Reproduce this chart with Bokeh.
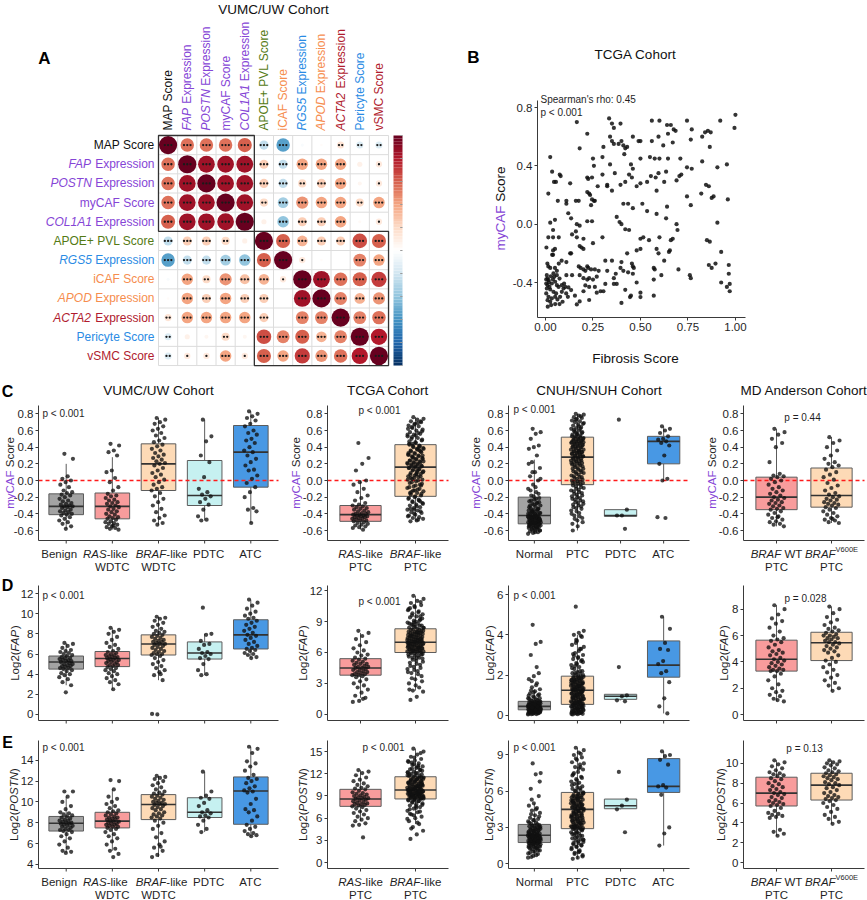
import math
from bokeh.plotting import figure
from bokeh.models import Label, FixedTicker, NumeralTickFormatter, Range1d
from bokeh.layouts import column, row
from bokeh.embed import file_html
from bokeh.resources import INLINE

FONT = "Liberation Sans"
TXT = "#1f1f1f"
PURPLE = "#8545D6"
GREEN = "#547A14"
ORANGE = "#F68D4E"
BLUE = "#2A8BE4"
DARKRED = "#B01B2E"
BLACK = "#111111"

# ---------------- data: panel A (correlation matrix, display order) ----------------
row_labels = [
    [("MAP Score", "normal", BLACK)],
    [("FAP", "italic", PURPLE), (" Expression", "normal", PURPLE)],
    [("POSTN", "italic", PURPLE), (" Expression", "normal", PURPLE)],
    [("myCAF Score", "normal", PURPLE)],
    [("COL1A1", "italic", PURPLE), (" Expression", "normal", PURPLE)],
    [("APOE+ PVL Score", "normal", GREEN)],
    [("RGS5", "italic", BLUE), (" Expression", "normal", BLUE)],
    [("iCAF Score", "normal", ORANGE)],
    [("APOD", "italic", ORANGE), (" Expression", "normal", ORANGE)],
    [("ACTA2", "italic", DARKRED), (" Expression", "normal", DARKRED)],
    [("Pericyte Score", "normal", BLUE)],
    [("vSMC Score", "normal", DARKRED)],
]
col_labels = [
    [("MAP Score", "normal", BLACK)],
    [("FAP", "italic", PURPLE), (" Expression", "normal", PURPLE)],
    [("POSTN", "italic", PURPLE), (" Expression", "normal", PURPLE)],
    [("myCAF Score", "normal", PURPLE)],
    [("COL1A1", "italic", PURPLE), (" Expression", "normal", PURPLE)],
    [("APOE+ PVL Score", "normal", GREEN)],
    [("iCAF Score", "normal", ORANGE)],
    [("RGS5", "italic", BLUE), (" Expression", "normal", BLUE)],
    [("APOD", "italic", ORANGE), (" Expression", "normal", ORANGE)],
    [("ACTA2", "italic", DARKRED), (" Expression", "normal", DARKRED)],
    [("Pericyte Score", "normal", BLUE)],
    [("vSMC Score", "normal", DARKRED)],
]
corr = [
    [1.00, 0.55, 0.55, 0.55, 0.60, -0.25, -0.55, -0.03, 0.02, 0.15, -0.15, -0.15],
    [0.55, 1.00, 0.85, 0.85, 0.85, 0.25, -0.25, 0.40, 0.40, 0.40, 0.08, 0.12],
    [0.55, 0.85, 1.00, 0.85, 0.85, 0.25, -0.25, 0.20, 0.25, 0.40, 0.05, 0.12],
    [0.55, 0.85, 0.85, 1.00, 0.85, 0.20, -0.35, 0.45, 0.40, 0.40, 0.20, 0.40],
    [0.60, 0.85, 0.85, 0.85, 1.00, 0.08, -0.40, 0.25, 0.25, 0.40, 0.03, 0.12],
    [-0.25, 0.25, 0.25, 0.20, 0.08, 1.00, 0.60, 0.35, 0.25, 0.25, 0.65, 0.60],
    [-0.55, -0.25, -0.25, -0.35, -0.40, 0.60, 1.00, 0.12, 0.02, 0.00, 0.50, 0.40],
    [-0.03, 0.40, 0.20, 0.45, 0.30, 0.35, 0.12, 1.00, 0.85, 0.55, 0.60, 0.70],
    [0.02, 0.40, 0.25, 0.40, 0.25, 0.25, 0.00, 0.85, 1.00, 0.50, 0.35, 0.45],
    [0.15, 0.40, 0.40, 0.40, 0.40, 0.25, 0.00, 0.50, 0.50, 1.00, 0.50, 0.55],
    [-0.15, 0.08, 0.05, 0.20, 0.05, 0.65, 0.50, 0.60, 0.35, 0.50, 1.00, 0.80],
    [-0.15, 0.12, 0.12, 0.40, 0.12, 0.60, 0.40, 0.70, 0.45, 0.55, 0.80, 1.00],
]
stars = [
    [3, 3, 3, 3, 3, 3, 3, 0, 0, 2, 2, 2],
    [3, 3, 3, 3, 3, 3, 3, 3, 3, 3, 0, 1],
    [3, 3, 3, 3, 3, 3, 3, 2, 3, 3, 0, 1],
    [3, 3, 3, 3, 3, 2, 3, 3, 3, 3, 2, 3],
    [3, 3, 3, 3, 3, 0, 3, 3, 3, 3, 0, 1],
    [3, 3, 3, 2, 0, 3, 3, 3, 3, 3, 3, 3],
    [3, 3, 3, 3, 3, 3, 3, 1, 0, 0, 3, 3],
    [0, 3, 2, 3, 3, 3, 1, 3, 3, 3, 3, 3],
    [0, 3, 3, 3, 3, 3, 0, 3, 3, 3, 3, 3],
    [2, 3, 3, 3, 3, 3, 0, 3, 3, 3, 3, 3],
    [2, 0, 0, 2, 0, 3, 3, 3, 3, 3, 3, 3],
    [2, 1, 1, 3, 1, 3, 3, 3, 3, 3, 3, 3],
]

# ---------------- data: panel B (TCGA scatter: fibrosis score, myCAF score) ----------------
tcga_pairs = [
    (0.165, 0.70), (0.18, 0.52), (0.22, 0.62), (0.025, 0.46), (0.335, 0.725), (0.35, 0.69), (0.36, 0.66),
    (0.395, 0.69), (0.305, 0.53), (0.34, 0.60), (0.35, 0.57), (0.36, 0.55), (0.385, 0.55), (0.40, 0.57),
    (0.41, 0.54), (0.42, 0.52), (0.43, 0.53), (0.415, 0.48), (0.46, 0.60), (0.49, 0.57), (0.50, 0.57),
    (0.25, 0.45), (0.30, 0.46), (0.255, 0.40), (0.34, 0.41), (0.45, 0.41), (0.50, 0.45), (0.55, 0.46),
    (0.56, 0.71), (0.60, 0.71), (0.64, 0.68), (0.66, 0.68), (0.675, 0.65), (0.685, 0.64), (0.595, 0.60),
    (0.62, 0.54), (0.645, 0.62), (0.67, 0.56), (0.56, 0.57), (0.575, 0.45), (0.60, 0.45), (0.645, 0.45),
    (0.71, 0.45), (0.745, 0.71), (0.77, 0.65), (0.765, 0.58), (0.825, 0.60), (0.84, 0.63), (0.855, 0.64),
    (0.87, 0.63), (0.865, 0.53), (0.92, 0.71), (0.995, 0.66), (1.0, 0.75), (0.825, 0.43), (0.905, 0.39),
    (0.955, 0.41), (0.745, 0.39), (0.77, 0.38),
    (0.035, 0.36), (0.045, 0.29), (0.055, 0.29), (0.075, 0.34), (0.08, 0.33), (0.015, 0.21), (0.065, 0.16),
    (0.11, 0.16), (0.11, 0.14), (0.13, 0.28), (0.16, 0.16), (0.175, 0.16), (0.12, 0.075), (0.135, 0.04),
    (0.025, 0.01), (0.05, 0.03), (0.04, -0.04), (0.22, 0.32), (0.225, 0.31), (0.245, 0.32), (0.22, 0.22),
    (0.23, 0.21), (0.235, 0.20), (0.245, 0.17), (0.255, 0.16), (0.26, 0.16), (0.24, 0.13), (0.30, 0.34),
    (0.325, 0.27), (0.325, 0.26), (0.365, 0.35), (0.275, 0.26), (0.35, 0.23), (0.395, 0.27), (0.42, 0.29),
    (0.44, 0.34), (0.455, 0.32), (0.48, 0.26), (0.50, 0.28), (0.46, 0.38), (0.535, 0.29), (0.555, 0.33),
    (0.58, 0.32), (0.595, 0.35), (0.635, 0.36), (0.625, 0.29), (0.69, 0.30), (0.705, 0.33), (0.715, 0.34),
    (0.585, 0.23), (0.745, 0.19), (0.765, 0.13), (0.82, 0.21), (0.845, 0.27), (0.86, 0.26), (0.885, 0.19),
    (0.875, 0.18), (0.96, 0.17), (0.905, 0.01), (0.41, 0.14), (0.435, 0.14), (0.46, 0.11), (0.51, 0.14),
    (0.535, 0.09), (0.585, 0.07), (0.64, 0.12), (0.69, 0.0), (0.695, -0.04), (0.375, 0.05), (0.39, 0.015),
    (0.40, 0.0), (0.42, -0.035), (0.44, -0.04), (0.165, 0.0), (0.18, -0.01), (0.16, -0.05), (0.22, 0.02),
    (0.245, 0.02), (0.14, -0.07), (0.165, -0.09), (0.20, -0.10), (0.30, -0.09), (0.50, -0.10), (0.515, -0.09),
    (0.545, -0.11), (0.60, -0.09), (0.635, 0.04), (0.66, -0.11), (0.67, -0.10),
    (0.015, -0.09), (0.04, -0.09), (0.07, -0.09), (0.005, -0.16), (0.04, -0.18), (0.05, -0.17), (0.035, -0.21),
    (0.04, -0.21), (0.13, -0.20), (0.135, -0.20), (0.18, -0.15), (0.19, -0.16), (0.20, -0.17), (0.25, -0.13),
    (0.01, -0.27), (0.015, -0.29), (0.025, -0.30), (0.05, -0.30), (0.06, -0.32), (0.085, -0.25), (0.11, -0.26),
    (0.06, -0.35), (0.14, -0.35), (0.11, -0.35), (0.07, -0.27), (0.175, -0.29), (0.185, -0.30), (0.20, -0.31),
    (0.21, -0.32), (0.22, -0.29), (0.225, -0.30), (0.24, -0.31), (0.26, -0.31), (0.28, -0.32), (0.27, -0.36),
    (0.18, -0.35), (0.20, -0.37), (0.22, -0.38), (0.23, -0.37), (0.25, -0.38), (0.315, -0.25), (0.325, -0.32),
    (0.35, -0.25), (0.37, -0.34), (0.36, -0.37), (0.395, -0.30), (0.40, -0.26), (0.43, -0.20), (0.455, -0.27),
    (0.46, -0.29), (0.465, -0.30), (0.48, -0.18), (0.50, -0.17), (0.41, -0.32), (0.435, -0.33), (0.46, -0.34),
    (0.575, -0.31), (0.57, -0.38), (0.61, -0.35), (0.57, -0.30), (0.585, -0.17), (0.595, -0.20), (0.625, -0.25),
    (0.65, -0.19), (0.655, -0.18), (0.70, -0.31), (0.76, -0.35), (0.765, -0.37), (0.85, -0.11), (0.865, -0.12),
    (0.86, -0.28), (0.875, -0.30), (0.895, -0.27), (0.925, -0.19), (0.965, -0.28), (0.965, -0.34), (0.925, -0.40),
    (0.955, -0.43), (0.97, -0.41), (0.97, -0.46), (0.48, -0.40), (0.50, -0.47), (0.50, -0.50), (0.445, -0.50),
    (0.45, -0.49), (0.40, -0.54), (0.42, -0.45), (0.57, -0.49), (0.29, -0.46), (0.305, -0.46), (0.27, -0.47),
    (0.26, -0.43), (0.23, -0.43), (0.165, -0.55), (0.18, -0.53), (0.23, -0.52), (0.155, -0.49), (0.20, -0.46),
    (0.21, -0.42), (0.315, -0.41), (0.36, -0.41), (0.375, -0.41),
    (0.007, -0.35), (0.011, -0.373), (0.016, -0.384), (0.004, -0.407), (0.011, -0.418), (0.021, -0.43),
    (0.007, -0.441), (0.025, -0.448), (0.033, -0.407), (0.039, -0.379), (0.046, -0.361), (0.051, -0.395),
    (0.06, -0.418), (0.069, -0.43), (0.042, -0.464), (0.056, -0.475), (0.004, -0.475), (0.016, -0.498),
    (0.011, -0.521), (0.025, -0.532), (0.033, -0.509), (0.051, -0.498), (0.063, -0.516), (0.077, -0.498),
    (0.086, -0.464), (0.095, -0.441), (0.104, -0.43), (0.109, -0.475), (0.121, -0.434), (0.086, -0.418),
    (0.074, -0.373), (0.03, -0.555), (0.012, -0.566), (0.051, -0.548), (0.074, -0.548), (0.09, -0.532),
    (0.118, -0.498), (0.098, -0.407), (0.135, -0.452), (0.042, -0.338), (0.028, -0.357), (0.004, -0.379),
    (0.018, -0.398),
]
fibrosis_score = [a for a, b in tcga_pairs]
mycaf_score_b = [b for a, b in tcga_pairs]

# ---------------- data: panels C-E (points; box stats = low whisker, q1, median, q3, high whisker) ----------------
# Row C: myCAF score
c_vumc = [
    [0.32, 0.26, 0.05, 0.02, 0.0, -0.02, -0.05, -0.08, -0.12, -0.14, -0.15, -0.17, -0.18, -0.2, -0.22, -0.24, -0.25, -0.27, -0.28, -0.29, -0.3, -0.31, -0.31, -0.32, -0.33, -0.35, -0.36, -0.37, -0.38, -0.39, -0.4, -0.41, -0.42, -0.44, -0.46, -0.48, -0.5, -0.52, -0.55, -0.58],
    [0.44, 0.42, 0.36, 0.34, 0.3, 0.12, 0.1, 0.03, -0.02, -0.08, -0.12, -0.16, -0.18, -0.19, -0.21, -0.23, -0.24, -0.26, -0.27, -0.28, -0.3, -0.31, -0.32, -0.34, -0.35, -0.37, -0.38, -0.4, -0.41, -0.43, -0.44, -0.45, -0.46, -0.47, -0.49, -0.5, -0.51, -0.52, -0.53, -0.55, -0.56, -0.57, -0.58, -0.59, -0.54],
    [0.75, 0.73, 0.7, 0.68, 0.65, 0.62, 0.6, 0.57, 0.54, 0.51, 0.48, 0.46, 0.43, 0.41, 0.38, 0.36, 0.33, 0.31, 0.29, 0.27, 0.25, 0.23, 0.21, 0.2, 0.18, 0.15, 0.12, 0.09, 0.07, 0.04, 0.01, -0.02, -0.05, -0.08, -0.1, -0.12, -0.15, -0.19, -0.22, -0.26, -0.3, -0.34, -0.38, -0.42, -0.45, -0.48, -0.51, -0.53],
    [0.73, 0.53, 0.47, 0.3, 0.22, 0.04, -0.1, -0.14, -0.17, -0.19, -0.22, -0.26, -0.29, -0.35, -0.43, -0.47, -0.48],
    [0.83, 0.8, 0.77, 0.75, 0.72, 0.68, 0.65, 0.6, 0.57, 0.55, 0.5, 0.48, 0.45, 0.4, 0.36, 0.34, 0.3, 0.26, 0.22, 0.18, 0.13, 0.12, 0.06, 0.02, -0.03, -0.08, -0.14, -0.2, -0.33, -0.35, -0.37, -0.51],
]
c_vumc_stats = [(-0.58, -0.41, -0.31, -0.16, 0.2), (-0.59, -0.46, -0.31, -0.15, 0.28), (-0.53, -0.12, 0.2, 0.44, 0.75), (-0.48, -0.3, -0.18, 0.24, 0.73), (-0.51, -0.08, 0.34, 0.66, 0.83)]
c_tcga = [
    [0.45, 0.27, 0.2, 0.12, 0.0, -0.02, -0.05, -0.1, -0.14, -0.18, -0.21, -0.24, -0.27, -0.29, -0.3, -0.31, -0.32, -0.33, -0.34, -0.35, -0.36, -0.37, -0.38, -0.39, -0.4, -0.4, -0.41, -0.41, -0.42, -0.42, -0.43, -0.43, -0.44, -0.44, -0.45, -0.46, -0.46, -0.47, -0.48, -0.48, -0.49, -0.5, -0.51, -0.52, -0.53, -0.54, -0.55, -0.56, -0.57, -0.59],
    [0.76, 0.74, 0.73, 0.71, 0.7, 0.68, 0.66, 0.65, 0.63, 0.61, 0.6, 0.58, 0.56, 0.55, 0.53, 0.51, 0.5, 0.48, 0.46, 0.44,
     0.42, 0.41, 0.39, 0.38, 0.36, 0.35, 0.33, 0.31, 0.3, 0.29, 0.27, 0.26, 0.24, 0.23, 0.22, 0.21, 0.2, 0.19, 0.18, 0.17,
     0.15, 0.13, 0.12, 0.1, 0.08, 0.07, 0.05, 0.03, 0.01, 0.0, -0.02, -0.04, -0.06, -0.08, -0.1, -0.12, -0.13, -0.15, -0.17, -0.18,
     -0.2, -0.22, -0.23, -0.25, -0.27, -0.29, -0.3, -0.32, -0.33, -0.35, -0.36, -0.38, -0.39, -0.41, -0.42, -0.44, -0.45, -0.46, -0.48, -0.49],
]
c_tcga_braf_more = [0.71, 0.67, 0.62, 0.57, 0.52, 0.49, 0.45, 0.43, 0.41, 0.4, 0.38, 0.37, 0.35, 0.34, 0.32, 0.31, 0.29, 0.28, 0.26, 0.25, 0.24, 0.22, 0.21, 0.2, 0.19, 0.18, 0.17, 0.16, 0.15, 0.14, 0.13, 0.11, 0.1, 0.09, 0.08, 0.06, 0.05, 0.04, 0.02, 0.01, -0.01, -0.03, -0.05, -0.07, -0.09, -0.11, -0.14, -0.16, -0.19, -0.21, -0.24, -0.26, -0.28, -0.31, -0.34, -0.37, -0.4, -0.43, -0.47, 0.64, 0.59, 0.54, 0.47, 0.36, 0.27, 0.23, 0.12, 0.03, -0.06, -0.12, 0.33, 0.39, 0.44, 0.3, 0.07, -0.15, -0.25, -0.35, 0.55, 0.69]
c_tcga_stats = [(-0.59, -0.49, -0.41, -0.3, 0.0), (-0.49, -0.19, 0.16, 0.43, 0.76)]
c_cnuh = [
    [0.62, 0.58, 0.56, 0.5, 0.42, 0.4, 0.38, 0.3, 0.22, 0.15, 0.1, 0.05, 0.0, -0.05, -0.1, -0.14, -0.18,
     -0.21, -0.23, -0.25, -0.27, -0.28, -0.3, -0.31, -0.33, -0.34, -0.35, -0.36, -0.37, -0.38, -0.39, -0.4, -0.4, -0.41, -0.42,
     -0.43, -0.43, -0.44, -0.45, -0.45, -0.46, -0.47, -0.47, -0.48, -0.48, -0.49, -0.49, -0.5, -0.5, -0.51, -0.51, -0.52, -0.52,
     -0.53, -0.53, -0.54, -0.54, -0.55, -0.55, -0.56, -0.57, -0.57, -0.58, -0.59, -0.6, -0.6, -0.61, -0.62, -0.63, -0.64],
    [0.8, 0.79, 0.78, 0.76, 0.75, 0.74, 0.72, 0.71, 0.7, 0.68, 0.67, 0.66, 0.64, 0.63, 0.62, 0.6, 0.59, 0.58, 0.56, 0.55, 0.54, 0.53,
     0.51, 0.5, 0.49, 0.48, 0.47, 0.46, 0.45, 0.44, 0.43, 0.42, 0.41, 0.4, 0.39, 0.37, 0.36, 0.35, 0.34, 0.33, 0.32, 0.31, 0.3, 0.29,
     0.27, 0.26, 0.24, 0.23, 0.21, 0.2, 0.18, 0.17, 0.15, 0.14, 0.12, 0.1, 0.09, 0.07, 0.05, 0.04, 0.02, 0.0, -0.01, -0.02, -0.03, -0.04,
     -0.06, -0.08, -0.1, -0.12, -0.14, -0.16, -0.18, -0.2, -0.22, -0.24, -0.26, -0.28, -0.3, -0.32, -0.34, -0.37, -0.4, -0.43, -0.46, -0.5, -0.55, -0.6],
    [0.73, -0.35, -0.42, -0.42, -0.58],
    [0.65, 0.62, 0.6, 0.57, 0.53, 0.5, 0.49, 0.47, 0.45, 0.42, 0.3, 0.2, 0.02, 0.0, -0.44, -0.45],
]
c_cnuh_normal_more = [-0.22, -0.24, -0.26, -0.29, -0.32, -0.35, -0.37, -0.39, -0.41, -0.42, -0.43, -0.44, -0.44, -0.45, -0.46, -0.46, -0.47, -0.48, -0.49, -0.5, -0.5, -0.51, -0.52, -0.53, -0.54, -0.55, -0.56, -0.58, -0.6, -0.62, -0.3, -0.34, -0.38, -0.4, -0.43, -0.45, -0.48, -0.51, -0.53, -0.57, 0.1, 0.02, -0.08, -0.12, -0.16, -0.19, 0.2, -0.27, -0.36, -0.47]
c_cnuh_ptc_more = [0.77, 0.73, 0.69, 0.65, 0.61, 0.57, 0.55, 0.53, 0.52, 0.51, 0.5, 0.49, 0.48, 0.47, 0.46, 0.45, 0.44, 0.43, 0.42, 0.41, 0.4, 0.39, 0.38, 0.37, 0.36, 0.35, 0.34, 0.33, 0.32, 0.31, 0.3, 0.29, 0.28, 0.27, 0.26, 0.25, 0.24, 0.23, 0.22, 0.21, 0.2, 0.19, 0.18, 0.16, 0.14, 0.13, 0.11, 0.1, 0.08, 0.06, 0.04, 0.03, 0.01, -0.01, -0.03, -0.05, -0.07, -0.09, -0.11, -0.13, -0.15, -0.17, -0.19, -0.21, -0.23, -0.25, -0.27, -0.29, -0.31, -0.33, -0.36, -0.39, -0.42, -0.45, -0.48, -0.52, 0.62, 0.58, 0.46, 0.35]
c_cnuh_stats = [(-0.64, -0.52, -0.42, -0.2, 0.25), (-0.6, -0.05, 0.28, 0.52, 0.8), (-0.43, -0.43, -0.42, -0.35, -0.35), (0.0, 0.2, 0.47, 0.53, 0.65)]
c_mda = [
    [0.62, 0.58, 0.55, 0.5, 0.45, 0.4, 0.22, 0.08, 0.06, 0.05, 0.04, 0.02, 0.0, -0.02, -0.05, -0.08, -0.1, -0.12, -0.14, -0.16, -0.18, -0.2,
     -0.21, -0.23, -0.24, -0.26, -0.27, -0.28, -0.3, -0.31, -0.33, -0.34, -0.35, -0.37, -0.39, -0.41, -0.43, -0.45, -0.47, -0.49, -0.5, -0.52, -0.53, -0.55, -0.44],
    [0.52, 0.48, 0.45, 0.4, 0.36, 0.3, 0.26, 0.22, 0.2, 0.18, 0.16, 0.13, 0.1, 0.07, 0.04, 0.01, -0.03, -0.06, -0.09, -0.12, -0.15, -0.17,
     -0.19, -0.2, -0.22, -0.23, -0.24, -0.26, -0.27, -0.28, -0.29, -0.3, -0.32, -0.33, -0.35, -0.37, -0.39, -0.41, -0.43, -0.45, -0.47, -0.48, -0.5, -0.51, -0.46],
]
c_mda_stats = [(-0.55, -0.35, -0.2, 0.04, 0.62), (-0.51, -0.32, -0.18, 0.15, 0.52)]

# Row D: Log2(FAP)
d_vumc = [
    [7.1, 7.0, 6.8, 6.6, 6.4, 6.3, 6.2, 6.1, 6.0, 5.9, 5.8, 5.7, 5.6, 5.6, 5.5, 5.4, 5.4, 5.3, 5.3, 5.2, 5.1, 5.0, 5.0, 4.9, 4.8, 4.8, 4.7, 4.6, 4.6, 4.5, 4.4, 4.3, 4.1, 4.0, 3.9, 3.7, 3.5, 3.2, 2.9, 2.2],
    [8.6, 8.4, 8.2, 8.0, 7.7, 7.4, 7.1, 6.9, 6.7, 6.5, 6.3, 6.2, 6.1, 6.0, 5.9, 5.9, 5.8, 5.7, 5.7, 5.6, 5.6, 5.5, 5.4, 5.4, 5.3, 5.2, 5.2, 5.1, 5.0, 4.9, 4.9, 4.8, 4.7, 4.6, 4.5, 4.4, 4.3, 4.1, 4.0, 3.8, 3.6, 3.4, 3.2, 3.0, 2.5],
    [9.7, 9.6, 9.5, 9.3, 9.1, 8.9, 8.7, 8.5, 8.3, 8.2, 8.1, 8.0, 7.9, 7.8, 7.7, 7.6, 7.5, 7.4, 7.3, 7.2, 7.2, 7.1, 7.0, 7.0, 6.9, 6.8, 6.7, 6.6, 6.5, 6.4, 6.3, 6.2, 6.1, 6.0, 6.0, 5.9, 5.8, 5.6, 5.4, 5.2, 5.0, 4.8, 4.6, 4.4, 4.2, 3.9, 3.4, 0.0, 0.05, 4.0],
    [10.6, 8.0, 7.9, 7.3, 7.0, 6.9, 6.5, 6.2, 6.1, 6.0, 5.8, 5.6, 5.5, 5.0, 4.4, 4.0, 3.9],
    [11.4, 11.1, 10.8, 10.5, 10.2, 10.0, 9.8, 9.6, 9.5, 9.3, 9.1, 8.9, 8.7, 8.5, 8.3, 8.1, 7.9, 7.8, 7.6, 7.4, 7.2, 7.0, 6.8, 6.6, 6.5, 6.4, 6.3, 6.1, 6.0, 5.9, 5.7, 5.6],
]
d_vumc_stats = [(2.9, 4.5, 5.2, 5.8, 7.1), (2.5, 4.75, 5.55, 6.25, 8.6), (3.4, 5.9, 7.0, 7.9, 9.7), (3.9, 5.5, 6.1, 7.2, 8.0), (5.6, 6.5, 7.9, 9.4, 11.4)]
d_tcga = [
    [8.1, 7.9, 7.6, 7.3, 7.0, 6.7, 6.4, 6.2, 6.0, 5.8, 5.7, 5.5, 5.4, 5.3, 5.2, 5.1, 5.0, 4.9, 4.9, 4.8, 4.7, 4.6, 4.6, 4.5, 4.5, 4.4, 4.3, 4.3, 4.2, 4.1, 4.1, 4.0, 3.9, 3.9, 3.8, 3.8, 3.7, 3.6, 3.4, 3.2, 3.0, 2.8, 2.6, 2.4, 2.1, 1.8, 1.6, 1.3, 1.2, 1.5],
    [11.5, 11.2, 11.0, 10.8, 10.6, 10.4, 10.2, 10.0, 9.8, 9.7, 9.5, 9.4, 9.2, 9.1, 8.9, 8.8, 8.7, 8.6, 8.5, 8.4,
     8.2, 8.2, 8.1, 8.0, 7.9, 7.9, 7.8, 7.7, 7.7, 7.6, 7.5, 7.5, 7.4, 7.3, 7.3, 7.2, 7.2, 7.1, 7.1, 7.0,
     6.9, 6.9, 6.8, 6.8, 6.7, 6.7, 6.6, 6.6, 6.5, 6.5, 6.4, 6.4, 6.3, 6.3, 6.2, 6.2, 6.1, 6.1, 6.0, 6.0,
     5.9, 5.8, 5.7, 5.5, 5.4, 5.2, 5.0, 4.8, 4.6, 4.4, 4.2, 4.0, 3.7, 3.4, 3.0, 2.6, 2.3, 2.2, 1.7, 1.4],
]
d_tcga_braf_more = [10.9, 10.5, 10.1, 9.9, 9.6, 9.3, 9.0, 8.8, 8.6, 8.5, 8.4, 8.3, 8.2, 8.1, 8.0, 8.0, 7.9, 7.8, 7.8, 7.7, 7.6, 7.6, 7.5, 7.4, 7.4, 7.3, 7.2, 7.2, 7.1, 7.0, 7.0, 6.9, 6.9, 6.8, 6.7, 6.7, 6.6, 6.5, 6.5, 6.4, 6.3, 6.3, 6.2, 6.1, 6.1, 6.0, 5.9, 5.8, 5.7, 5.6, 5.5, 5.3, 5.1, 4.9, 4.7, 4.5, 4.3, 4.1, 3.9, 3.5, 3.2, 2.8, 2.4, 9.1, 8.7, 8.4, 7.95, 7.65, 7.35, 7.05, 6.75, 6.45, 6.15, 5.85, 5.45, 10.3, 9.5, 8.9, 6.95, 7.25]
d_tcga_stats = [(1.6, 3.8, 4.5, 5.4, 7.9), (2.3, 6.0, 7.0, 8.3, 11.5)]
d_cnuh = [
    [4.5, 3.65, 3.55, 3.0, 2.1, 1.95, 1.8, 1.6, 1.4, 1.3, 1.2, 1.1, 1.0, 0.95, 0.85, 0.8, 0.75,
     0.7, 0.68, 0.66, 0.64, 0.62, 0.6, 0.59, 0.57, 0.56, 0.54, 0.53, 0.52, 0.5, 0.49, 0.48, 0.47, 0.46, 0.45,
     0.44, 0.43, 0.42, 0.41, 0.4, 0.39, 0.38, 0.37, 0.36, 0.35, 0.34, 0.33, 0.32, 0.31, 0.3, 0.3, 0.29, 0.28,
     0.27, 0.26, 0.25, 0.24, 0.23, 0.22, 0.21, 0.2, 0.19, 0.18, 0.16, 0.15, 0.13, 0.12, 0.1, 0.08, 0.05],
    [5.4, 4.2, 4.1, 4.0, 3.9, 3.7, 3.5, 3.3, 3.1, 3.0, 2.9, 2.8, 2.7, 2.6, 2.5, 2.4, 2.3, 2.2, 2.15, 2.1, 2.05, 2.0,
     1.92, 1.88, 1.85, 1.82, 1.78, 1.75, 1.72, 1.68, 1.65, 1.62, 1.58, 1.55, 1.52, 1.48, 1.45, 1.42, 1.38, 1.35, 1.32, 1.3, 1.28, 1.26,
     1.22, 1.18, 1.15, 1.12, 1.08, 1.05, 1.02, 0.98, 0.95, 0.92, 0.88, 0.85, 0.82, 0.78, 0.75, 0.72, 0.68, 0.65, 0.62, 0.6, 0.58, 0.56,
     0.53, 0.5, 0.48, 0.45, 0.43, 0.4, 0.38, 0.35, 0.33, 0.3, 0.28, 0.25, 0.23, 0.2, 0.18, 0.16, 0.14, 0.12, 0.1, 0.08, 0.06, 0.05],
    [2.4, 1.0, 0.95, 0.75, 0.7],
    [4.9, 4.3, 3.6, 3.3, 3.25, 2.7, 2.55, 2.2, 2.1, 1.65, 0.85, 0.45, 0.1],
]
d_cnuh_normal_more = [1.5, 1.25, 1.05, 0.9, 0.82, 0.76, 0.72, 0.69, 0.65, 0.61, 0.58, 0.55, 0.51, 0.48, 0.46, 0.44, 0.42, 0.4, 0.38, 0.36, 0.34, 0.32, 0.3, 0.29, 0.27, 0.25, 0.23, 0.21, 0.19, 0.17, 0.15, 0.13, 0.11, 0.09, 0.07, 0.06, 0.63, 0.57, 0.5, 0.43, 0.37, 0.31, 0.26, 0.2, 0.14, 1.15, 0.98, 2.4, 1.7, 0.86]
d_cnuh_ptc_more = [3.95, 3.6, 3.4, 3.2, 2.95, 2.75, 2.55, 2.35, 2.2, 2.1, 2.0, 1.95, 1.9, 1.85, 1.8, 1.75, 1.7, 1.65, 1.6, 1.55, 1.5, 1.45, 1.4, 1.35, 1.3, 1.25, 1.2, 1.15, 1.1, 1.05, 1.0, 0.95, 0.9, 0.85, 0.8, 0.75, 0.7, 0.65, 0.6, 0.55, 0.5, 0.45, 0.4, 0.35, 0.3, 0.25, 0.2, 0.15, 0.1, 0.07, 1.87, 1.73, 1.57, 1.43, 1.27, 1.13, 0.97, 0.83, 0.67, 0.53, 0.42, 0.32, 0.22, 0.12, 2.45, 2.65, 2.85, 3.05, 3.3, 3.75, 1.62, 1.48, 1.33, 1.17, 1.03, 0.87, 0.73, 0.63, 0.47, 0.27]
d_cnuh_stats = [(0.05, 0.28, 0.45, 0.7, 1.3), (0.05, 0.55, 1.25, 1.95, 4.0), (0.75, 0.8, 0.95, 1.05, 1.05), (0.1, 1.9, 2.5, 3.7, 4.9)]
d_mda = [
    [8.3, 8.0, 7.6, 7.3, 7.1, 6.9, 6.6, 6.3, 6.0, 5.8, 5.7, 5.6, 5.5, 5.3, 5.1, 4.9, 4.8, 4.7, 4.6, 4.5, 4.3, 4.2,
     4.1, 4.0, 3.9, 3.8, 3.7, 3.6, 3.5, 3.4, 3.4, 3.3, 3.3, 3.1, 2.9, 2.6, 2.3, 2.0, 1.8, 1.7, 1.5, 1.4, 1.2, 1.0, 1.1],
    [8.2, 8.0, 7.7, 7.4, 7.2, 7.0, 6.8, 6.6, 6.5, 6.4, 6.3, 6.2, 6.1, 6.0, 6.0, 5.9, 5.8, 5.8, 5.7, 5.6, 5.5, 5.5,
     5.4, 5.3, 5.2, 5.1, 5.0, 4.9, 4.8, 4.7, 4.5, 4.3, 4.1, 4.0, 3.8, 3.6, 3.4, 3.2, 3.0, 2.8, 2.6, 2.4, 2.2, 2.0, 1.8],
]
d_mda_stats = [(1.0, 3.3, 4.2, 5.65, 8.3), (1.8, 4.1, 5.45, 6.25, 8.2)]

# Row E: Log2(POSTN)
e_vumc = [
    [11.0, 11.0, 10.5, 10.0, 9.6, 9.3, 9.0, 8.9, 8.8, 8.7, 8.6, 8.5, 8.4, 8.3, 8.2, 8.2, 8.1, 8.0, 8.0, 7.9, 7.9, 7.8, 7.7, 7.7, 7.6, 7.5, 7.4, 7.3, 7.3, 7.2, 7.1, 6.9, 6.7, 6.5, 6.2, 5.9, 5.6, 5.3, 5.2, 5.1],
    [12.1, 12.0, 11.2, 10.5, 10.3, 10.0, 9.8, 9.6, 9.4, 9.2, 9.1, 9.0, 8.9, 8.8, 8.7, 8.6, 8.5, 8.5, 8.4, 8.3, 8.3, 8.2, 8.1, 8.1, 8.0, 7.9, 7.9, 7.8, 7.8, 7.7, 7.6, 7.6, 7.5, 7.4, 7.3, 7.1, 6.9, 6.7, 6.5, 6.2, 5.9, 5.5, 5.3, 5.0, 4.7],
    [12.5, 12.4, 12.3, 12.2, 12.0, 11.8, 11.6, 11.4, 11.2, 11.0, 10.9, 10.8, 10.7, 10.6, 10.5, 10.4, 10.3, 10.2, 10.1, 10.0, 9.9, 9.9, 9.8, 9.8, 9.7, 9.6, 9.5, 9.4, 9.3, 9.2, 9.0, 8.9, 8.8, 8.7, 8.6, 8.5, 8.4, 8.2, 8.0, 7.7, 7.4, 7.0, 6.6, 6.2, 5.9, 5.6, 5.3, 4.9, 4.7, 5.7],
    [12.9, 11.0, 10.6, 10.4, 10.3, 9.9, 9.6, 9.2, 9.0, 8.9, 8.7, 8.6, 8.5, 8.2, 7.8, 7.4, 7.1],
    [15.3, 15.1, 14.7, 13.9, 13.7, 13.4, 13.0, 12.6, 12.3, 12.2, 12.0, 11.8, 11.5, 11.3, 11.1, 11.0, 10.9, 10.3, 9.8, 9.3, 9.2, 9.0, 8.6, 8.2, 7.8, 7.6, 7.4, 7.2, 7.0, 6.9, 6.8, 6.7],
]
e_vumc_stats = [(5.1, 7.2, 7.95, 8.6, 10.5), (5.3, 7.5, 8.15, 9.0, 11.2), (4.7, 8.3, 9.75, 10.7, 12.5), (7.1, 8.5, 9.0, 10.4, 12.9), (6.7, 7.85, 11.05, 12.4, 15.3)]
e_tcga = [
    [12.5, 12.3, 12.1, 11.8, 11.5, 11.2, 11.0, 10.7, 10.5, 10.3, 10.1, 10.0, 9.9, 9.7, 9.5, 9.4, 9.3, 9.2, 9.1, 9.0, 8.9, 8.8, 8.7, 8.7, 8.6, 8.5, 8.4, 8.3, 8.2, 8.1, 8.0, 7.9, 7.9, 7.8, 7.7, 7.6, 7.5, 7.3, 7.1, 6.9, 6.7, 6.5, 6.2, 6.0, 5.8, 5.6, 5.3, 5.1, 5.0, 3.4],
    [15.4, 15.0, 14.6, 14.3, 14.0, 13.8, 13.6, 13.4, 13.2, 13.0, 12.8, 12.6, 12.5, 12.3, 12.2, 12.1, 12.0, 11.9, 11.8, 11.7,
     11.5, 11.4, 11.3, 11.2, 11.1, 11.0, 10.9, 10.8, 10.7, 10.6, 10.5, 10.4, 10.3, 10.2, 10.2, 10.1, 10.0, 9.9, 9.9, 9.8,
     9.7, 9.7, 9.6, 9.6, 9.5, 9.5, 9.4, 9.3, 9.3, 9.2, 9.2, 9.1, 9.0, 9.0, 8.9, 8.9, 8.8, 8.8, 8.7, 8.6,
     8.5, 8.4, 8.3, 8.2, 8.0, 7.9, 7.7, 7.5, 7.3, 7.0, 6.8, 6.5, 6.2, 6.0, 5.6, 5.2, 4.8, 4.3, 3.8, 3.2],
]
e_tcga_braf_more = [14.8, 14.2, 13.7, 13.1, 12.7, 12.4, 12.1, 11.9, 11.7, 11.6, 11.5, 11.3, 11.2, 11.0, 10.9, 10.8, 10.6, 10.5, 10.4, 10.3, 10.1, 10.0, 9.9, 9.8, 9.7, 9.6, 9.5, 9.4, 9.3, 9.2, 9.1, 9.0, 8.9, 8.8, 8.7, 8.6, 8.5, 8.3, 8.1, 7.8, 7.6, 7.2, 6.9, 6.4, 5.9, 5.4, 4.6, 11.45, 11.05, 10.65, 10.25, 9.95, 9.65, 9.35, 9.05, 8.75, 8.45, 12.2, 12.9, 13.5, 10.75, 10.15, 9.55, 9.25, 8.95, 8.65, 11.35, 10.95, 10.55, 10.05, 9.85, 9.45, 9.15, 8.85, 7.4, 6.6, 12.55, 13.3, 11.8, 10.35]
e_tcga_stats = [(5.6, 7.6, 8.6, 9.9, 12.5), (5.2, 8.6, 9.8, 11.6, 15.4)]
e_cnuh = [
    [8.3, 7.5, 7.4, 6.2, 5.6, 5.0, 4.8, 4.6, 4.4, 4.2, 4.0, 3.8, 3.7, 3.6, 3.5, 3.4, 3.3,
     3.2, 3.15, 3.1, 3.0, 2.95, 2.9, 2.85, 2.8, 2.75, 2.7, 2.65, 2.6, 2.55, 2.5, 2.45, 2.4, 2.38, 2.36,
     2.33, 2.3, 2.27, 2.24, 2.2, 2.17, 2.13, 2.1, 2.06, 2.02, 1.98, 1.95, 1.92, 1.88, 1.85, 1.82, 1.78, 1.76,
     1.72, 1.68, 1.64, 1.6, 1.55, 1.5, 1.45, 1.4, 1.35, 1.3, 1.2, 1.1, 1.0, 0.9, 0.8, 0.65, 0.5],
    [9.6, 9.4, 9.2, 9.0, 8.8, 8.6, 8.4, 8.2, 8.0, 7.8, 7.6, 7.4, 7.2, 7.0, 6.8, 6.7, 6.6, 6.4, 6.3, 6.2, 6.1, 6.0,
     5.85, 5.8, 5.7, 5.65, 5.6, 5.5, 5.45, 5.4, 5.3, 5.25, 5.2, 5.1, 5.05, 5.0, 4.9, 4.85, 4.8, 4.7, 4.65, 4.6, 4.55, 4.5,
     4.4, 4.3, 4.2, 4.1, 4.0, 3.95, 3.9, 3.8, 3.7, 3.6, 3.55, 3.5, 3.4, 3.3, 3.25, 3.2, 3.1, 3.05, 3.0, 2.98, 2.95, 2.92,
     2.85, 2.8, 2.7, 2.6, 2.5, 2.4, 2.3, 2.2, 2.1, 2.0, 1.9, 1.8, 1.7, 1.6, 1.5, 1.4, 1.3, 1.1, 0.9, 0.7, 0.5, 0.4],
    [7.6, 5.3, 4.8, 4.5, 2.6],
    [9.3, 9.0, 8.9, 8.6, 8.2, 6.5, 6.4, 6.3, 5.7, 3.0, 2.5, 1.5],
]
e_cnuh_normal_more = [4.5, 4.1, 3.9, 3.6, 3.4, 3.25, 3.15, 3.05, 2.95, 2.85, 2.75, 2.65, 2.55, 2.45, 2.35, 2.28, 2.22, 2.15, 2.08, 2.0, 1.95, 1.9, 1.85, 1.8, 1.75, 1.7, 1.62, 1.52, 1.42, 1.32, 1.22, 1.12, 1.0, 0.85, 0.7, 0.55, 3.0, 2.7, 2.5, 2.4, 2.25, 2.12, 2.04, 1.92, 1.83, 1.66, 1.46, 1.26, 5.3, 6.8]
e_cnuh_ptc_more = [9.1, 8.7, 8.3, 7.9, 7.5, 7.1, 6.9, 6.5, 6.25, 6.05, 5.9, 5.75, 5.6, 5.5, 5.35, 5.25, 5.15, 5.0, 4.9, 4.8, 4.7, 4.6, 4.5, 4.4, 4.3, 4.2, 4.1, 4.0, 3.9, 3.8, 3.7, 3.6, 3.5, 3.4, 3.3, 3.2, 3.1, 3.0, 2.9, 2.75, 2.6, 2.45, 2.3, 2.15, 2.0, 1.85, 1.7, 1.55, 1.4, 1.2, 1.0, 0.8, 0.6, 5.55, 5.2, 4.95, 4.75, 4.55, 4.35, 4.15, 3.95, 3.75, 3.55, 3.35, 3.15, 5.8, 5.4, 5.05, 4.65, 4.25, 3.85, 3.45, 3.05, 2.85, 6.6, 7.3, 8.0, 2.5, 1.95, 0.95]
e_cnuh_stats = [(0.5, 1.75, 2.35, 3.25, 5.0), (0.4, 2.9, 4.5, 5.9, 9.6), (4.5, 4.55, 4.8, 5.35, 5.35), (1.5, 5.9, 6.4, 8.7, 9.3)]
e_mda = [
    [10.3, 10.1, 9.9, 9.7, 9.5, 9.3, 9.1, 9.0, 8.9, 8.8, 8.7, 8.5, 8.4, 8.2, 8.0, 7.9, 7.7, 7.6, 7.4, 7.3, 7.1, 7.0,
     6.9, 6.8, 6.6, 6.5, 6.3, 6.2, 6.1, 6.0, 5.9, 5.8, 5.7, 5.5, 5.2, 5.0, 4.9, 4.8, 4.7, 4.6, 4.5, 3.3, 3.1, 2.9, 2.7],
    [10.3, 10.2, 10.1, 10.0, 9.9, 9.8, 9.6, 9.5, 9.3, 9.2, 9.1, 9.0, 8.9, 8.8, 8.7, 8.6, 8.5, 8.4, 8.3, 8.1, 8.0, 7.9,
     7.8, 7.6, 7.5, 7.3, 7.1, 7.0, 6.8, 6.7, 6.6, 6.5, 6.4, 6.3, 6.2, 6.0, 5.8, 5.6, 5.4, 5.1, 4.8, 4.6, 4.4, 4.1, 3.9],
]
e_mda_stats = [(2.7, 5.7, 7.0, 8.6, 10.3), (3.9, 6.3, 7.8, 9.0, 10.3)]

# category tick labels (segments: text, style)
vumc_cats = [[("Benign", "normal")], [("RAS", "italic"), ("-like", "normal")], [("BRAF", "italic"), ("-like", "normal")], [("PDTC", "normal")], [("ATC", "normal")]]
vumc_cats2 = ["", "WDTC", "WDTC", "", ""]
tcga_cats = [[("RAS", "italic"), ("-like", "normal")], [("BRAF", "italic"), ("-like", "normal")]]
tcga_cats2 = ["PTC", "PTC"]
cnuh_cats = [[("Normal", "normal")], [("PTC", "normal")], [("PDTC", "normal")], [("ATC", "normal")]]
cnuh_cats2 = ["", "", "", ""]
mda_cats = [[("BRAF", "italic"), (" WT", "normal")], [("BRAF", "italic"), ("V600E", "sup")]]
mda_cats2 = ["PTC", "PTC"]

cohorts = ["VUMC/UW Cohort", "TCGA Cohort", "CNUH/SNUH Cohort", "MD Anderson Cohort"]
pvals_c = ["p < 0.001", "p < 0.001", "p < 0.001", "p = 0.44"]
pvals_d = ["p < 0.001", "p < 0.001", "p < 0.001", "p = 0.028"]
pvals_e = ["p < 0.001", "p < 0.001", "p < 0.001", "p = 0.13"]

# ---------------- styling ----------------
GRAYF = "#A3A3A3"
RASF = "#F89C9C"
BRAFF = "#FDDAB6"
PDTCF = "#C6F1F1"
ATCF = "#4898E4"
AXC = "#3a3a3a"
RDBU = ["#053061", "#2166AC", "#4393C3", "#92C5DE", "#D1E5F0", "#FFFFFF",
        "#FDDBC7", "#F4A582", "#D6604D", "#B2182B", "#67001F"]

_U = dict(zip("ABCDEFGHIJKLMNOPQRSTUVWXYZ", [667, 667, 722, 722, 667, 611, 778, 722, 278, 500, 667, 556, 833, 722, 778, 667, 778, 722, 667, 611, 722, 667, 944, 667, 667, 611]))
_L = dict(zip("abcdefghijklmnopqrstuvwxyz", [556, 556, 500, 556, 556, 278, 556, 556, 222, 222, 500, 222, 833, 556, 556, 556, 556, 333, 500, 278, 556, 500, 722, 500, 500, 500]))
CW = {}
CW.update(_U); CW.update(_L)
CW.update({c: 556 for c in "0123456789"})
CW.update({" ": 278, "-": 333, "+": 584, "/": 278, "(": 333, ")": 333, ".": 278, ":": 278, "'": 191, "<": 584, "=": 584})


def tw(s, size):
    return sum(CW.get(ch, 556) for ch in s) * size / 1000.0


def rdbu(r):
    t = (max(-1.0, min(1.0, r)) + 1.0) * 5.0
    i = min(int(t), 9)
    f = t - i
    a = RDBU[i]; b = RDBU[i + 1]
    ca = [int(a[k:k + 2], 16) for k in (1, 3, 5)]
    cb = [int(b[k:k + 2], 16) for k in (1, 3, 5)]
    return "#%02x%02x%02x" % tuple(int(round(ca[k] + (cb[k] - ca[k]) * f)) for k in range(3))


class Geo:
    """Maps pixel offsets (from the top-left of a panel's plotting area) to data units."""
    def __init__(self, p, xr, yr, fw, fh):
        self.p = p
        self.x0, self.x1 = xr
        self.y0, self.y1 = yr
        self.kx = fw / (xr[1] - xr[0])
        self.ky = fh / (yr[1] - yr[0])

    def X(self, px):
        return self.x0 + px / self.kx

    def Y(self, py):
        return self.y1 - py / self.ky

    def put(self, px, py, text, size=11.5, color=TXT, style="normal", align="left", baseline="middle", angle=0.0):
        self.p.add_layout(Label(x=self.X(px), y=self.Y(py), text=text, text_font=FONT,
                                text_font_size="%.1fpx" % size, text_color=color, text_font_style=style,
                                text_align=align, text_baseline=baseline, angle=angle))

    def rich(self, px, py, segs, align="center", vertical=False):
        widths = [tw(s[0], s[2]) for s in segs]
        total = sum(widths)
        off = -total / 2 if align == "center" else (-total if align == "right" else 0.0)
        for (t, st, sz, col, rise), w in zip(segs, widths):
            lead = len(t) - len(t.lstrip(" "))
            o = off + tw(" " * lead, sz)
            t = t.strip(" ")
            if vertical:
                self.put(px - rise, py - o, t, sz, col, st, "left", "middle", math.pi / 2)
            else:
                self.put(px + o, py - rise, t, sz, col, st, "left", "middle")
            off += w


def style_axis(ax, size="11.5px"):
    ax.axis_line_color = AXC
    ax.axis_line_width = 1
    ax.major_tick_line_color = AXC
    ax.major_tick_in = 0
    ax.major_tick_out = 3
    ax.minor_tick_line_color = None
    ax.major_label_text_font = FONT
    ax.major_label_text_font_size = size
    ax.major_label_text_color = TXT
    ax.major_label_standoff = 2


def panel_fig(W, H, xr, yr, bl, br, bt, bb):
    """Whole-figure frame; the plotting area (xr, yr) sits inside it with the given pixel margins."""
    fw, fh = W - bl - br, H - bt - bb
    kx = fw / (xr[1] - xr[0]); ky = fh / (yr[1] - yr[0])
    fx = (xr[0] - bl / kx, xr[1] + br / kx)
    fy = (yr[0] - bb / ky, yr[1] + bt / ky)
    p = figure(width=W, height=H, x_range=Range1d(*fx), y_range=Range1d(*fy), output_backend="svg",
               toolbar_location=None, min_border=0)
    p.outline_line_color = None
    p.grid.visible = False
    p.xaxis.fixed_location = yr[0]
    p.xaxis.bounds = xr
    p.yaxis.fixed_location = xr[0]
    p.yaxis.bounds = yr
    style_axis(p.xaxis[0]); style_axis(p.yaxis[0])
    return p, Geo(p, xr, yr, fw, fh), fw, fh


TOP_H = 380

# ---------------- Panel A ----------------
CELL = 19.17
MX, MY = 158.0, 135.0
AW, AH = 440, TOP_H
ax0, ax1 = -MX / CELL, (AW - MX) / CELL
ay1, ay0 = 12 + MY / CELL, 12 - (AH - MY) / CELL
pA = figure(width=AW, height=AH, x_range=Range1d(ax0, ax1), y_range=Range1d(ay0, ay1),
            x_axis_type=None, y_axis_type=None, output_backend="svg", toolbar_location=None, min_border=0)
pA.outline_line_color = None
gA = Geo(pA, (ax0, ax1), (ay0, ay1), AW, AH)

gx0, gy0, gx1, gy1 = [], [], [], []
for k in range(13):
    gx0 += [k, 0]; gy0 += [0, k]; gx1 += [k, 12]; gy1 += [12, k]
pA.segment(x0=gx0, y0=gy0, x1=gx1, y1=gy1, line_color="#DCDCDC", line_width=1)

cx, cy, rad, cc, sx, sy = [], [], [], [], [], []
for i in range(12):
    for j in range(12):
        r = corr[i][j]
        cx.append(j + 0.5); cy.append(11.5 - i)
        rad.append(0.475 * math.sqrt(abs(r))); cc.append(rdbu(r))
        k = stars[i][j]
        for m in range(k):
            sx.append(j + 0.5 + (m - (k - 1) / 2.0) * 0.17); sy.append(11.5 - i)
pA.circle(x=cx, y=cy, radius=rad, fill_color=cc, line_color=None)
pA.scatter(x=sx, y=sy, size=2.3, fill_color="#1a1a1a", line_color=None)
pA.quad(left=[0, 5], right=[5, 12], top=[12, 7], bottom=[7, 0], fill_color=None,
        line_color="#333333", line_width=1.3)

nb = 80
cb_b = [12.0 * s / nb for s in range(nb)]
cb_t = [12.0 * (s + 1) / nb for s in range(nb)]
cb_c = [rdbu(-1 + 2 * (s + 0.5) / nb) for s in range(nb)]
cbl = (393 - MX) / CELL
cbr = (402 - MX) / CELL
pA.quad(left=cbl, right=cbr, bottom=cb_b, top=cb_t, fill_color=cb_c, line_color=None)
tk = [12.0 * s / 10 for s in range(11)]
pA.segment(x0=[cbr - 0.12] * 11, y0=tk, x1=[cbr] * 11, y1=tk, line_color="#9a9a9a", line_width=1)

for i, segs in enumerate(row_labels):
    gA.rich(154, MY + CELL * (i + 0.5), [(t, st, 12, c, 0) for t, st, c in segs], align="right")
for j, segs in enumerate(col_labels):
    gA.rich(MX + CELL * (j + 0.5), 130, [(t, st, 12, c, 0) for t, st, c in segs], align="left", vertical=True)
gA.put(273, 9, "VUMC/UW Cohort", 13.5, BLACK, align="center")
gA.put(44, 58, "A", 17, "black", "bold", align="center")

# ---------------- Panel B ----------------
pB, gB, _, _ = panel_fig(427, TOP_H, (-0.042, 1.053), (-0.64, 0.848), 97, 122, 100, TOP_H - 317)
pB.xaxis.ticker = FixedTicker(ticks=[0, 0.25, 0.5, 0.75, 1.0], minor_ticks=[])
pB.xaxis.formatter = NumeralTickFormatter(format="0.00")
pB.yaxis.ticker = FixedTicker(ticks=[-0.4, 0.0, 0.4, 0.8], minor_ticks=[])
pB.yaxis.formatter = NumeralTickFormatter(format="0.0")
pB.scatter(fibrosis_score, mycaf_score_b, size=4.2, fill_color="#111111", fill_alpha=0.85, line_color=None)
gB.put(-64, -43, "B", 17, "black", "bold", align="center")
gB.put(98, -46, "TCGA Cohort", 13.5, BLACK, align="center")
gB.put(3, -1, "Spearman's rho: 0.45", 10, TXT)
gB.put(3, 12, "p < 0.001", 10, TXT)
gB.put(98, 258, "Fibrosis Score", 13.5, BLACK, align="center")
gB.rich(-37, 108, [("myCAF", "normal", 13.5, PURPLE, 0), (" Score", "normal", 13.5, BLACK, 0)], vertical=True)

# ---------------- Panels C, D, E ----------------
COLS = [(38, 240, 7, 5), (42, 121, 14, 2), (46, 181, 11, 4), (43, 121, 3, 2)]
FILLS = [[GRAYF, RASF, BRAFF, PDTCF, ATCF], [RASF, BRAFF], [GRAYF, BRAFF, PDTCF, ATCF], [RASF, BRAFF]]
CATS = [(vumc_cats, vumc_cats2), (tcga_cats, tcga_cats2), (cnuh_cats, cnuh_cats2), (mda_cats, mda_cats2)]
CAT_SHIFT = [[-7, -7, 3, 4, 0], [0, 0], [0, 0, 0, 0], [0, 0]]


def jit(j, w=0.15):
    return ((j * 0.6180339887 + 0.37) % 1.0 - 0.5) * 2 * w


def box_panel(ci, groups, stats, yr, yticks, yfmt, bt, fh, bb, zero_line=False):
    bl, fw, br, n = COLS[ci]
    xr = (0.4, n + 0.6)
    p, g, fw, fh = panel_fig(bl + fw + br, bt + fh + bb, xr, yr, bl, br, bt, bb)
    p.yaxis.ticker = FixedTicker(ticks=yticks, minor_ticks=[])
    p.yaxis.formatter = NumeralTickFormatter(format=yfmt)
    p.xaxis.ticker = FixedTicker(ticks=[], minor_ticks=[])
    xs = list(range(1, n + 1))
    # category tick marks on the x axis
    p.segment(x0=xs, y0=[yr[0]] * n, x1=xs, y1=[yr[0] - 3.0 / g.ky] * n, line_color=AXC, line_width=1)
    lo = [s[0] for s in stats]; q1 = [s[1] for s in stats]; md = [s[2] for s in stats]
    q3 = [s[3] for s in stats]; hi = [s[4] for s in stats]
    p.segment(x0=xs, y0=lo, x1=xs, y1=q1, line_color="#5c5c5c", line_width=1)
    p.segment(x0=xs, y0=q3, x1=xs, y1=hi, line_color="#5c5c5c", line_width=1)
    p.vbar(x=xs, width=0.75, bottom=q1, top=q3, fill_color=FILLS[ci], line_color="#5c5c5c", line_width=1)
    p.segment(x0=[x - 0.375 for x in xs], y0=md, x1=[x + 0.375 for x in xs], y1=md, line_color="#333333", line_width=1.6)
    if zero_line:
        p.segment(x0=[xr[0]], y0=[0], x1=[xr[1]], y1=[0], line_color="#FF1A1A", line_dash="4 3", line_width=1.5)
    px, py = [], []
    for gi, vals in enumerate(groups):
        for j, v in enumerate(vals):
            px.append(xs[gi] + jit(j)); py.append(v)
    p.scatter(px, py, size=4.2, fill_color="#111111", fill_alpha=0.78, line_color=None)
    return p, g


def add_cats(g, ci, fh):
    cats, cats2 = CATS[ci]
    for k, segs in enumerate(cats):
        xpx = (k + 1 - 0.4) * g.kx
        rs = []
        for t, st in segs:
            if st == "sup":
                rs.append((t, "normal", 7.5, TXT, 4))
            else:
                rs.append((t, st, 11.5, TXT, 0))
        g.rich(xpx + CAT_SHIFT[ci][k], fh + 13, rs, align="center")
        if cats2[k]:
            g.put(xpx, fh + 26, cats2[k], 11.5, TXT, align="center")


def ytitle(g, pxo, fh, segs):
    g.rich(pxo, fh / 2.0, segs, align="center", vertical=True)


# dense groups: all points read for the group
c_tcga_all = [c_tcga[0], c_tcga[1] + c_tcga_braf_more]
c_cnuh_all = [c_cnuh[0] + c_cnuh_normal_more, c_cnuh[1] + c_cnuh_ptc_more, c_cnuh[2], c_cnuh[3]]
d_tcga_all = [d_tcga[0], d_tcga[1] + d_tcga_braf_more]
d_cnuh_all = [d_cnuh[0] + d_cnuh_normal_more, d_cnuh[1] + d_cnuh_ptc_more, d_cnuh[2], d_cnuh[3]]
e_tcga_all = [e_tcga[0], e_tcga[1] + e_tcga_braf_more]
e_cnuh_all = [e_cnuh[0] + e_cnuh_normal_more, e_cnuh[1] + e_cnuh_ptc_more, e_cnuh[2], e_cnuh[3]]

# Row C
C_BT, C_FH, C_BB = 405 - TOP_H, 135, 35
c_data = [(c_vumc, c_vumc_stats), (c_tcga_all, c_tcga_stats), (c_cnuh_all, c_cnuh_stats), (c_mda, c_mda_stats)]
c_ticks = [-0.6, -0.4, -0.2, 0.0, 0.2, 0.4, 0.6, 0.8]
c_pv = [(4, 8, "left"), (52, 5, "center"), (5, 4, "left"), (59, 12, "center")]
c_yt = [-29, -32, -33, -32]
rowC = []
for ci in range(4):
    p, g = box_panel(ci, c_data[ci][0], c_data[ci][1], (-0.72, 0.9), c_ticks, "0.0", C_BT, C_FH, C_BB, zero_line=True)
    g.put(COLS[ci][1] / 2.0, -15, cohorts[ci], 13.5, BLACK, align="center")
    g.put(c_pv[ci][0], c_pv[ci][1], pvals_c[ci], 10, TXT, align=c_pv[ci][2])
    ytitle(g, c_yt[ci], C_FH, [("myCAF", "normal", 11.5, PURPLE, 0), (" Score", "normal", 11.5, TXT, 0)])
    add_cats(g, ci, C_FH)
    if ci == 0:
        g.put(-31, -14, "C", 16, "black", "bold", align="center")
    rowC.append(p)

# Row D
D_BT, D_FH, D_BB = 10, 135, 10
d_data = [(d_vumc, d_vumc_stats), (d_tcga_all, d_tcga_stats), (d_cnuh_all, d_cnuh_stats), (d_mda, d_mda_stats)]
d_yr = [(-0.6, 12.8), (-0.6, 12.5), (-0.25, 6.45), (-0.45, 9.8)]
d_ticks = [[0, 2, 4, 6, 8, 10, 12], [0, 3, 6, 9, 12], [0, 2, 4, 6], [0, 2, 4, 6, 8]]
d_pv = [(4, 10, "left"), (52, 16, "center"), (5, 10, "left"), (62, 13, "center")]
d_yt = [-24, -25, -19, -20]
rowD = []
for ci in range(4):
    p, g = box_panel(ci, d_data[ci][0], d_data[ci][1], d_yr[ci], d_ticks[ci], "0", D_BT, D_FH, D_BB)
    g.put(d_pv[ci][0], d_pv[ci][1], pvals_d[ci], 10, TXT, align=d_pv[ci][2])
    ytitle(g, d_yt[ci], D_FH, [("Log2(", "normal", 11.5, TXT, 0), ("FAP", "italic", 11.5, TXT, 0), (")", "normal", 11.5, TXT, 0)])
    if ci == 0:
        g.put(-31, 0, "D", 16, "black", "bold", align="center")
    rowD.append(p)

# Row E
E_BT, E_FH, E_BB = 10, 128, 32
e_data = [(e_vumc, e_vumc_stats), (e_tcga_all, e_tcga_stats), (e_cnuh_all, e_cnuh_stats), (e_mda, e_mda_stats)]
e_yr = [(3.6, 15.9), (-0.8, 16.5), (-0.4, 10.2), (-0.6, 12.3)]
e_ticks = [[4, 6, 8, 10, 12, 14], [0, 3, 6, 9, 12, 15], [0, 3, 6, 9], [0, 2, 4, 6, 8, 10]]
e_pv = [(4, 7, "left"), (56, 7, "center"), (5, 7, "left"), (61, 8, "center")]
e_yt = [-25, -25, -20, -23]
rowE = []
for ci in range(4):
    p, g = box_panel(ci, e_data[ci][0], e_data[ci][1], e_yr[ci], e_ticks[ci], "0", E_BT, E_FH, E_BB)
    g.put(e_pv[ci][0], e_pv[ci][1], pvals_e[ci], 10, TXT, align=e_pv[ci][2])
    ytitle(g, e_yt[ci], E_FH, [("Log2(", "normal", 11.5, TXT, 0), ("POSTN", "italic", 11.5, TXT, 0), (")", "normal", 11.5, TXT, 0)])
    add_cats(g, ci, E_FH)
    if ci == 0:
        g.put(-31, 2, "E", 16, "black", "bold", align="center")
    rowE.append(p)

layout = column(row(pA, pB), row(*rowC), row(*rowD), row(*rowE))
open("out.html", "w").write(file_html(layout, INLINE, "Figure"))
